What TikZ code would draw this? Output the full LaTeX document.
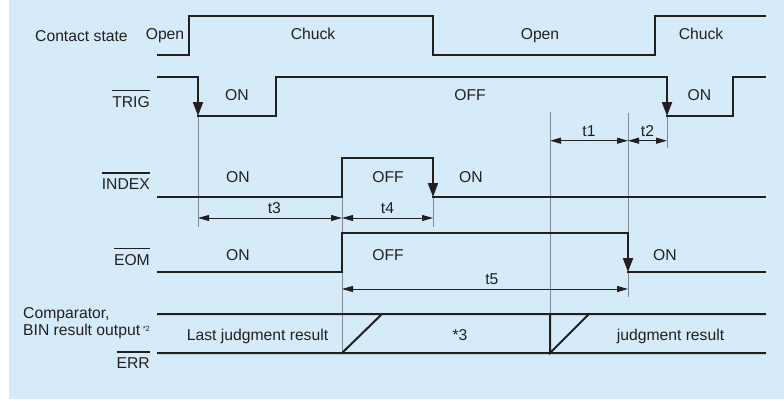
\documentclass[tikz,border=0pt]{standalone}
\usepackage{fontspec}
\setmainfont{Liberation Sans}
\usetikzlibrary{arrows.meta}
\definecolor{panel}{RGB}{213,235,250}
\definecolor{ink}{RGB}{35,31,32}
\definecolor{guide}{RGB}{128,138,148}
\newcommand{\sigbar}[1]{\vbox{\hrule height 1.6pt\kern 4.6pt\hbox{#1}}}
\newcommand{\note}[1]{\raisebox{4pt}{\fontsize{7.5}{9}\selectfont #1}}

\begin{document}
\begin{tikzpicture}[x=1pt,y=-1pt,
    every node/.style={anchor=base,inner sep=0pt,text=ink,font=\fontsize{15.7}{18}\selectfont},
    wave/.style={ink,line width=2pt,line cap=rect},
    fall/.style={wave,-{Triangle[length=14pt,width=10pt]}},
    guideline/.style={guide,line width=0.8pt},
    dim/.style={ink,line width=1pt,{Triangle[length=11pt,width=6pt]}-{Triangle[length=11pt,width=6pt]}},
    dimlabel/.style={above=4pt}]
    \fill[white] (0,0) rectangle (784,399);
    \fill[panel] (9,0) rectangle (784,399);
    \useasboundingbox (0,0) rectangle (784,399);

    % signal names
    \node[anchor=base west] (cst) at (35,41.5) {Contact state};
    \node[anchor=base east] (trig) at (150,107) {\sigbar{TRIG}};
    \node[anchor=base east] (index) at (150,189) {\sigbar{INDEX}};
    \node[anchor=base east] (eom) at (150,265) {\sigbar{EOM}};
    \node[anchor=base west] (comp) at (23,318.5) {Comparator,};
    \node[anchor=base west] (bin) at (23,335) {BIN result output\,\note{*2}};
    \node[anchor=base east] (err) at (150,368) {\sigbar{ERR}};

    % state texts
    \node (open1) at (165,39) {Open};
    \node (chuck1) at (313,39.5) {Chuck};
    \node (open2) at (540,39.5) {Open};
    \node (chuck2) at (701,39.5) {Chuck};
    \node (trigon1) at (237,100.7) {ON};
    \node (trigoff) at (470,100.7) {OFF};
    \node (trigon2) at (699.5,100.7) {ON};
    \node (indexon1) at (238,182.3) {ON};
    \node (indexoff) at (388,182.3) {OFF};
    \node (indexon2) at (471,182.3) {ON};
    \node (eomon1) at (238,260) {ON};
    \node (eomoff) at (388,260) {OFF};
    \node (eomon2) at (665,260) {ON};
    \node (last) at (257.5,340) {Last judgment result};
    \node (star3) at (460,340) {*3};
    \node (judge) at (670.5,340) {judgment result};

    % guide lines
    \draw[guideline] (198,116) -- (198,227);
    \draw[guideline] (342,197) -- (342,353);
    \draw[guideline] (433,197) -- (433,227);
    \draw[guideline] (550,112) -- (550,353);
    \draw[guideline] (628,113) -- (628,297);
    \draw[guideline] (667,116) -- (667,148);

    % waveforms
    \draw[wave] (158,55) -- (189,55) -- (189,16) -- (433,16) -- (433,55) -- (655,55) -- (655,16) -- (765,16);
    \draw[fall] (158,77) -- (198,77) -- (198,116);
    \draw[fall] (198,116) -- (276,116) -- (276,77) -- (667,77) -- (667,116);
    \draw[wave] (667,116) -- (733,116) -- (733,77) -- (765,77);
    \draw[fall] (158,197) -- (342,197) -- (342,158) -- (433,158) -- (433,197);
    \draw[wave] (433,197) -- (765,197);
    \draw[fall] (158,272) -- (342,272) -- (342,233) -- (628,233) -- (628,272);
    \draw[wave] (628,272) -- (765,272);
    \draw[wave] (158,314) -- (765,314) (158,353) -- (765,353)
        (342,353) -- (382,314) (550,314) -- (550,353) -- (589,314);

    % timing marks
    \coordinate (t1a) at (550,140.7);
    \coordinate (t1b) at (628,140.7);
    \coordinate (t2b) at (667,140.7);
    \coordinate (t3a) at (198,218);
    \coordinate (t3b) at (342,218);
    \coordinate (t4b) at (433,218);
    \coordinate (t5a) at (342,289);
    \coordinate (t5b) at (628,289);

    \path[dim]
    (t1a) edge node[dimlabel] {t1} (t1b)
    (t1b) edge node[dimlabel] {t2} (t2b)
    (t3a) edge node[pos=.53,dimlabel] {t3} (t3b)
    (t3b) edge node[dimlabel] {t4} (t4b)
    (t5a) edge node[pos=.524,dimlabel] {t5} (t5b)
    ;
\end{tikzpicture}
\end{document}
